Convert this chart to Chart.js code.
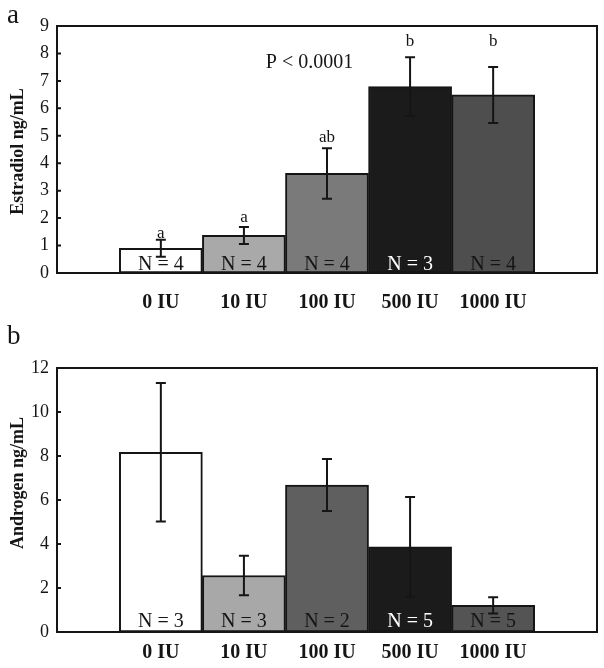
<!DOCTYPE html>
<html lang="en">
<head>
<meta charset="UTF-8">
<title>Estradiol and androgen by hCG dose</title>
<script src="https://cdn.jsdelivr.net/npm/chart.js"></script>
<style>
  html, body { margin: 0; padding: 0; background: #fff; }
  .panel { position: absolute; left: 0; width: 604px; }
  #panelA { top: 0; height: 320px; }
  #panelB { top: 320px; height: 348px; }
</style>
</head>
<body>
<div class="panel" id="panelA"><canvas id="chartA"></canvas></div>
<div class="panel" id="panelB"><canvas id="chartB"></canvas></div>
<script>
// data
const doses = ['0 IU', '10 IU', '100 IU', '500 IU', '1000 IU'];

const estradiolMean = [0.9, 1.37, 3.63, 6.79, 6.49];
const estradiolErr = [0.31, 0.31, 0.92, 1.07, 1.02];
const estradiolN = [4, 4, 4, 3, 4];
const estradiolLetters = ['a', 'a', 'ab', 'b', 'b'];
const estradiolLetterY = [1.45, 2.03, 4.95, 8.45, 8.45];

const androgenMean = [8.17, 2.57, 6.68, 3.87, 1.21];
const androgenErr = [3.15, 0.9, 1.18, 2.27, 0.37];
const androgenN = [3, 3, 2, 5, 5];

const serif = '"Liberation Serif", "Times New Roman", serif';
const ink = '#151515';
Chart.defaults.font.family = serif;
Chart.defaults.color = ink;

// error bars, frame, N labels and other annotations
const annotate = {
  id: 'annotate',
  afterDatasetsDraw(chart, args, o) {
    const { ctx, chartArea: a, scales: { x, y } } = chart;
    ctx.save();
    ctx.strokeStyle = ink;
    ctx.lineWidth = 2;

    o.mean.forEach((m, i) => {
      const px = x.getPixelForValue(i);
      const top = y.getPixelForValue(m + o.err[i]);
      const bot = y.getPixelForValue(m - o.err[i]);
      ctx.beginPath();
      ctx.moveTo(px, top); ctx.lineTo(px, bot);
      ctx.moveTo(px - 5, top); ctx.lineTo(px + 5, top);
      ctx.moveTo(px - 5, bot); ctx.lineTo(px + 5, bot);
      ctx.stroke();
    });

    ctx.strokeRect(a.left, a.top, a.width, a.height);
    ctx.beginPath();
    y.ticks.forEach(t => {
      const py = y.getPixelForValue(t.value);
      ctx.moveTo(a.left, py); ctx.lineTo(a.left + 4, py);
    });
    ctx.stroke();

    ctx.textAlign = 'center';
    ctx.textBaseline = 'alphabetic';
    ctx.font = '20px ' + serif;
    o.n.forEach((n, i) => {
      ctx.fillStyle = o.nColor[i];
      ctx.fillText('N = ' + n, x.getPixelForValue(i), y.getPixelForValue(0) - o.nLift);
    });

    ctx.fillStyle = ink;
    ctx.textBaseline = 'middle';
    if (o.letters) {
      ctx.font = '17px ' + serif;
      o.letters.forEach((l, i) => {
        ctx.fillText(l, x.getPixelForValue(i), y.getPixelForValue(o.letterY[i]));
      });
    }
    if (o.pText) {
      ctx.font = '20px ' + serif;
      ctx.fillText(o.pText, x.getPixelForValue(o.pAt[0]), y.getPixelForValue(o.pAt[1]));
    }

    ctx.textAlign = 'left';
    ctx.font = '27px ' + serif;
    ctx.fillText(o.panel, 7, o.panelY);

    ctx.translate(18, (a.top + a.bottom) / 2 + o.titleShift);
    ctx.rotate(-Math.PI / 2);
    ctx.textAlign = 'center';
    ctx.font = 'bold 18px ' + serif;
    ctx.fillText(o.title, 0, 0);
    ctx.restore();
  }
};

function makeChart(id, p) {
  return new Chart(document.getElementById(id), {
    type: 'bar',
    data: {
      labels: doses.map((_, i) => i),
      datasets: [{
        data: p.mean,
        backgroundColor: p.colors,
        borderColor: ink,
        borderWidth: 2,
        borderSkipped: false,
        barPercentage: 1,
        categoryPercentage: 1
      }]
    },
    options: {
      responsive: true,
      maintainAspectRatio: false,
      animation: false,
      layout: { padding: { left: 0, top: p.padTop, right: 7, bottom: 0 } },
      plugins: {
        legend: { display: false },
        tooltip: { enabled: false },
        annotate: p.notes
      },
      scales: {
        x: {
          type: 'linear',
          min: -1.25,
          max: 5.25,
          offset: false,
          grid: { display: false, drawTicks: false },
          border: { display: false },
          afterBuildTicks: s => { s.ticks = doses.map((_, i) => ({ value: i })); },
          afterFit: s => { s.height = p.xHeight; },
          ticks: {
            autoSkip: false,
            maxRotation: 0,
            padding: p.xPad,
            color: ink,
            font: { size: 20, weight: 'bold' },
            callback: v => doses[v]
          }
        },
        y: {
          min: 0,
          max: p.yMax,
          grid: { display: false, drawTicks: false },
          border: { display: false },
          afterFit: s => { s.width = 57; },
          ticks: { stepSize: p.yStep, padding: 8, color: ink, font: { size: 18 } }
        }
      }
    },
    plugins: [annotate]
  });
}

makeChart('chartA', {
  mean: estradiolMean,
  colors: ['#ffffff', '#a9a9a9', '#7a7a7a', '#1b1b1b', '#4e4e4e'],
  padTop: 26, xHeight: 47, xPad: 18, yMax: 9, yStep: 1,
  notes: {
    mean: estradiolMean, err: estradiolErr, n: estradiolN,
    nColor: [ink, ink, ink, '#ffffff', ink], nLift: 3,
    letters: estradiolLetters, letterY: estradiolLetterY,
    pText: 'P < 0.0001', pAt: [1.79, 7.65],
    panel: 'a', panelY: 16,
    title: 'Estradiol ng/mL', titleShift: 2
  }
});

makeChart('chartB', {
  mean: androgenMean,
  colors: ['#ffffff', '#a8a8a8', '#5f5f5f', '#1b1b1b', '#545454'],
  padTop: 48, xHeight: 36, xPad: 9, yMax: 12, yStep: 2,
  notes: {
    mean: androgenMean, err: androgenErr, n: androgenN,
    nColor: [ink, ink, ink, '#ffffff', ink], nLift: 5,
    panel: 'b', panelY: 17,
    title: 'Androgen ng/mL', titleShift: -17
  }
});
</script>
</body>
</html>
